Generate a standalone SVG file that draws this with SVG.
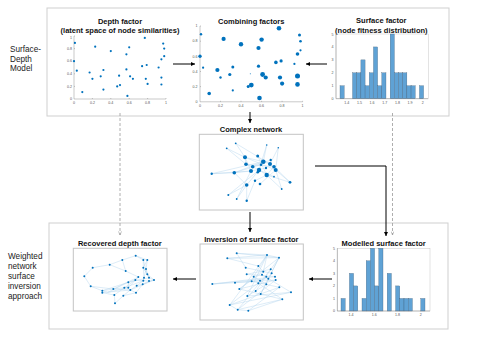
<svg xmlns="http://www.w3.org/2000/svg" width="485" height="343" viewBox="0 0 485 343">
<defs>
<style>
.frame{fill:none;stroke:#cfcfcf;stroke-width:1}
.pbox{fill:#fff;stroke:#c4c4c4;stroke-width:1}
.ttl{font-family:"Liberation Sans",Arial,sans-serif;font-weight:bold;font-size:7.5px;fill:#111;text-anchor:middle}
.side{font-family:"Liberation Sans",Arial,sans-serif;font-size:8.2px;fill:#222}
.tk{font-family:"Liberation Sans",Arial,sans-serif;font-size:3.6px;fill:#555}
.tr{text-anchor:end}
.tm{text-anchor:middle}
.ax{fill:none;stroke:#777;stroke-width:0.4}
.axl{fill:none;stroke:#bbb;stroke-width:0.4}
.d{fill:#0072BD}
.bar{fill:#5fa2d5;stroke:#3d5a73;stroke-width:0.3}
.e{stroke:#b3d4ee;stroke-width:0.45;fill:none}
.con{stroke:#000;stroke-width:1;fill:none}
.dash{stroke:#999;stroke-width:0.8;stroke-dasharray:3 2;fill:none}
</style>
<marker id="ah" viewBox="0 0 6 6" refX="6" refY="3" markerWidth="4" markerHeight="4" orient="auto"><path d="M0,0 L6,3 L0,6 z" fill="#000"/></marker>
<marker id="ahg" viewBox="0 0 6 6" refX="6" refY="3" markerWidth="4.5" markerHeight="4.5" orient="auto"><path d="M0,0.5 L6,3 L0,5.5" fill="none" stroke="#999" stroke-width="1"/></marker>
</defs>
<rect width="485" height="343" fill="#fff"/>

<!-- outer frames -->
<g id="surface-depth-model">
<rect class="frame" x="47" y="8" width="402" height="108"/>
<text class="side" x="10" y="52">Surface-</text>
<text class="side" x="10" y="61.5">Depth</text>
<text class="side" x="10" y="71">Model</text>
</g>
<g id="weighted-network-approach">
<rect class="frame" x="49" y="223" width="399" height="106"/>
<text class="side" x="8" y="259">Weighted</text>
<text class="side" x="8" y="269">network</text>
<text class="side" x="8" y="279">surface</text>
<text class="side" x="8" y="289">inversion</text>
<text class="side" x="8" y="299">approach</text>
</g>

<!-- Depth factor -->
<g id="depth-factor">
<text class="ttl" x="120" y="24.4">Depth factor</text>
<text class="ttl" x="120" y="33.4">(latent space of node similarities)</text>
<path class="ax" d="M74,36 V99 H166"/>
<path class="ax" d="M74,36 h1 M74,48.6 h1 M74,61.2 h1 M74,73.8 h1 M74,86.4 h1 M92.4,99 v-1 M110.8,99 v-1 M129.2,99 v-1 M147.6,99 v-1 M166,99 v-1"/>
<g class="tk tr">
<text x="72" y="100.2">0</text><text x="72" y="87.6">0.2</text><text x="72" y="75">0.4</text><text x="72" y="62.4">0.6</text><text x="72" y="49.8">0.8</text><text x="72" y="38.6">1</text>
</g>
<g class="tk tm">
<text x="74" y="104">0</text><text x="92.4" y="104">0.2</text><text x="110.8" y="104">0.4</text><text x="129.2" y="104">0.6</text><text x="147.6" y="104">0.8</text><text x="166" y="104">1</text>
</g>
<g class="d">
<circle cx="74.9" cy="42.9" r="1.1"/><circle cx="95.2" cy="46.7" r="1.1"/><circle cx="74.0" cy="61.2" r="1.1"/><circle cx="76.8" cy="70.7" r="1.1"/>
<circle cx="82.3" cy="92.1" r="1.1"/><circle cx="89.6" cy="72.5" r="1.1"/><circle cx="92.4" cy="78.8" r="1.1"/><circle cx="100.7" cy="76.3" r="1.1"/>
<circle cx="103.4" cy="70.0" r="1.1"/><circle cx="103.4" cy="89.6" r="1.1"/><circle cx="110.8" cy="51.1" r="1.1"/><circle cx="119.1" cy="75.7" r="1.1"/>
<circle cx="117.2" cy="86.4" r="1.1"/><circle cx="120.0" cy="85.1" r="1.1"/><circle cx="126.4" cy="54.3" r="1.1"/><circle cx="126.4" cy="69.4" r="1.1"/>
<circle cx="127.4" cy="95.9" r="1.1"/><circle cx="129.2" cy="47.3" r="1.1"/><circle cx="130.1" cy="76.3" r="1.1"/><circle cx="132.9" cy="78.8" r="1.1"/>
<circle cx="142.1" cy="66.2" r="1.1"/><circle cx="144.8" cy="37.9" r="1.1"/><circle cx="145.8" cy="78.8" r="1.1"/><circle cx="146.7" cy="65.0" r="1.1"/>
<circle cx="147.6" cy="83.9" r="1.1"/><circle cx="158.6" cy="67.5" r="1.1"/><circle cx="161.4" cy="59.3" r="1.1"/><circle cx="161.4" cy="77.6" r="1.1"/>
<circle cx="161.4" cy="84.5" r="1.1"/><circle cx="163.2" cy="43.6" r="1.1"/><circle cx="164.2" cy="48.6" r="1.1"/><circle cx="164.2" cy="56.2" r="1.1"/>
</g>
</g>

<!-- Combining factors -->
<g id="combining-factors">
<text class="ttl" x="251.2" y="24.3">Combining factors</text>
<path class="ax" d="M200,26 V101.8 H302.6"/>
<path class="ax" d="M200,26 h1 M200,41.2 h1 M200,56.3 h1 M200,71.5 h1 M200,86.6 h1 M220.5,101.8 v-1 M241,101.8 v-1 M261.6,101.8 v-1 M282.1,101.8 v-1 M302.6,101.8 v-1"/>
<g class="tk tr">
<text x="197.5" y="103">0</text><text x="197.5" y="87.8">0.2</text><text x="197.5" y="72.7">0.4</text><text x="197.5" y="57.5">0.6</text><text x="197.5" y="42.4">0.8</text><text x="197.5" y="27.2">1</text>
</g>
<g class="tk tm">
<text x="200" y="106.6">0</text><text x="220.5" y="106.6">0.2</text><text x="241" y="106.6">0.4</text><text x="261.6" y="106.6">0.6</text><text x="282.1" y="106.6">0.8</text><text x="302.6" y="106.6">1</text>
</g>
<g class="d">
<circle cx="201.0" cy="34.3" r="1.2"/><circle cx="223.6" cy="38.9" r="2.1"/><circle cx="200.0" cy="56.3" r="1.7"/><circle cx="203.1" cy="67.7" r="1.1"/>
<circle cx="209.2" cy="93.5" r="1.8"/><circle cx="217.4" cy="70.0" r="2.1"/><circle cx="220.5" cy="77.5" r="1.2"/><circle cx="229.8" cy="74.5" r="1.6"/>
<circle cx="232.8" cy="66.9" r="1.5"/><circle cx="232.8" cy="90.4" r="1.1"/><circle cx="241.0" cy="44.2" r="2.2"/><circle cx="250.3" cy="73.8" r="0.5"/>
<circle cx="248.2" cy="86.6" r="1.5"/><circle cx="251.3" cy="85.1" r="2.4"/><circle cx="258.5" cy="48.0" r="2.1"/><circle cx="258.5" cy="66.2" r="1.6"/>
<circle cx="259.5" cy="98.0" r="2.3"/><circle cx="261.6" cy="39.6" r="2.2"/><circle cx="262.6" cy="74.5" r="2.4"/><circle cx="265.7" cy="77.5" r="2.1"/>
<circle cx="275.9" cy="62.4" r="1.8"/><circle cx="279.0" cy="28.3" r="2.3"/><circle cx="280.0" cy="77.5" r="2.1"/><circle cx="281.1" cy="60.9" r="1.6"/>
<circle cx="282.1" cy="83.6" r="2.1"/><circle cx="294.4" cy="63.9" r="1.1"/><circle cx="297.5" cy="54.0" r="1.8"/><circle cx="297.5" cy="76.0" r="2.5"/>
<circle cx="297.5" cy="84.4" r="2.3"/><circle cx="299.5" cy="35.1" r="1.5"/><circle cx="300.5" cy="41.2" r="1.3"/><circle cx="300.5" cy="50.3" r="1.1"/>
</g>
</g>

<!-- Surface factor -->
<g id="surface-factor">
<text class="ttl" x="381.3" y="23.4">Surface factor</text>
<text class="ttl" x="381.3" y="33.1">(node fitness distribution)</text>
<rect x="336" y="34" width="92.3" height="64.7" fill="#fff" class="axl"/>
<g>
<rect class="bar" x="340.00" y="85.76" width="4.18" height="12.94"/>
<rect class="bar" x="352.54" y="72.82" width="4.18" height="25.88"/>
<rect class="bar" x="356.72" y="72.82" width="4.18" height="25.88"/>
<rect class="bar" x="360.90" y="59.88" width="4.18" height="38.82"/>
<rect class="bar" x="365.08" y="85.76" width="4.18" height="12.94"/>
<rect class="bar" x="369.26" y="72.82" width="4.18" height="25.88"/>
<rect class="bar" x="373.44" y="46.94" width="4.18" height="51.76"/>
<rect class="bar" x="377.62" y="85.76" width="4.18" height="12.94"/>
<rect class="bar" x="381.80" y="72.82" width="4.18" height="25.88"/>
<rect class="bar" x="390.16" y="34.00" width="4.18" height="64.70"/>
<rect class="bar" x="394.34" y="72.82" width="4.18" height="25.88"/>
<rect class="bar" x="398.52" y="72.82" width="4.18" height="25.88"/>
<rect class="bar" x="402.70" y="72.82" width="4.18" height="25.88"/>
<rect class="bar" x="406.88" y="85.76" width="4.18" height="12.94"/>
<rect class="bar" x="411.06" y="85.76" width="4.18" height="12.94"/>
<rect class="bar" x="419.42" y="85.76" width="4.18" height="12.94"/>
</g>
<path class="ax" d="M336,34 V98.7 H428.3"/>
<g class="tk tr">
<text x="333.5" y="99.9">0</text><text x="333.5" y="87">1</text><text x="333.5" y="74">2</text><text x="333.5" y="61.1">3</text><text x="333.5" y="48.2">4</text><text x="333.5" y="35.8">5</text>
</g>
<g class="tk tm">
<text x="346.7" y="103.6">1.4</text><text x="359.4" y="103.6">1.5</text><text x="372" y="103.6">1.6</text><text x="384.7" y="103.6">1.7</text><text x="397.4" y="103.6">1.8</text><text x="410" y="103.6">1.9</text><text x="422.7" y="103.6">2</text>
</g>
</g>

<!-- Complex network -->
<g id="complex-network">
<text class="ttl" x="251" y="132">Complex network</text>
<rect class="pbox" x="199.3" y="134.3" width="104" height="75.7"/>
<g class="e">
<path d="M235.7,143.3L245,157.3M226.7,148.3L245,157.3M235.7,143.3L270,164M266.7,145L259,170M278.3,147.7L275.7,170M278.3,147.7L270,164M245,157.3L263.3,161.7M245,157.3L246,164.3M245,157.3L251,171M257.7,156L263.3,161.7M263.3,161.7L270,164M246,164.3L252.7,166.7M252.7,166.7L259,170M259,170L266.7,175M274,166.7L266.7,175M275.7,170L290,182.3M251,171L234.3,172.7M234.3,172.7L211.7,173.7M234.3,172.7L246.7,185M211.7,173.7L251,171M246.7,185L228.3,195M246.7,185L236.7,199M246.7,185L246.7,200.7M246.7,185L259,170M255,180.7L266.7,175M260,184L275.7,170M290,182.3L274,166.7M281.7,189L275.7,170M281.7,189L266.7,175M274,176.7L259,170M234.3,172.7L263.3,161.7M226.7,148.3L246,164.3M266.7,145L263.3,161.7M266,168L251,171M270.7,160L252.7,166.7M257.7,172.3L263.3,161.7M261,164.7L234.3,172.7M228.3,195L259,170M246.7,200.7L255,180.7M236.7,199L251,171M274,166.7L246,164.3M211.7,173.7L263.3,161.7M290,182.3L266.7,175M245,157.3L275.7,170M257.7,156L266.7,175"/>
</g>
<g class="d">
<circle cx="235.7" cy="143.3" r="0.9"/><circle cx="226.7" cy="148.3" r="0.9"/><circle cx="266.7" cy="145" r="0.8"/><circle cx="278.3" cy="147.7" r="0.8"/>
<circle cx="245" cy="157.3" r="2"/><circle cx="257.7" cy="156" r="1.5"/><circle cx="263.3" cy="161.7" r="2.3"/><circle cx="270.7" cy="160" r="1.2"/>
<circle cx="246" cy="164.3" r="1.8"/><circle cx="252.7" cy="166.7" r="1.8"/><circle cx="259" cy="170" r="2.2"/><circle cx="266" cy="168" r="1.2"/>
<circle cx="270" cy="164" r="2"/><circle cx="274" cy="166.7" r="1.8"/><circle cx="275.7" cy="170" r="2"/><circle cx="251" cy="171" r="2"/>
<circle cx="257.7" cy="172.3" r="1.3"/><circle cx="261" cy="164.7" r="1.3"/><circle cx="266.7" cy="175" r="2.2"/><circle cx="234.3" cy="172.7" r="1.8"/>
<circle cx="211.7" cy="173.7" r="1.2"/><circle cx="274" cy="176.7" r="0.9"/><circle cx="246.7" cy="185" r="1.8"/><circle cx="255" cy="180.7" r="1.2"/>
<circle cx="260" cy="184" r="1.3"/><circle cx="290" cy="182.3" r="1.4"/><circle cx="281.7" cy="189" r="0.9"/><circle cx="228.3" cy="195" r="1"/>
<circle cx="236.7" cy="199" r="0.9"/><circle cx="246.7" cy="200.7" r="1.2"/>
</g>
</g>

<!-- Recovered depth factor -->
<g id="recovered-depth-factor">
<text class="ttl" x="119.8" y="246">Recovered depth factor</text>
<rect class="pbox" x="73.3" y="248.3" width="93.7" height="62.7"/>
<g class="e">
<path d="M84.3,276.3L92.7,267.7L109.7,264.7L122.3,260L135.7,255.7L143.3,260M135.7,255.7L147.3,260M143.3,260L143.3,267.7M147.3,260L146,269M143.3,267.7L147.3,274.3M146,269L149,277.7M122.3,260L125.7,271L138.3,277M109.7,264.7L125.7,271M84.3,276.3L90.7,286.3L102.3,290.7L113.3,289L130.3,290L136.7,285.7L142.7,284.3L149,281L154,280L149,277.7L147.3,274.3M102.3,290.7L102.3,292.7L114.3,295L115,303.3L123.3,295.7L130.3,290M144,277.7L143.3,280.7M138.3,277L135.3,280L128.3,282.3L128.3,287.7L124.3,287.7L113.3,289M136.7,285.7L143.3,280.7L144,277.7L143.3,267.7M147.3,274.3L154,280M136,292.7L142.7,284.3M136,292.7L130.3,290M107.7,292.3L102.3,290.7M107.7,292.3L128.3,282.3M102.3,290.7L128.3,282.3M102.3,292.7L130.3,290M114.3,295L135.3,280M146,269L144,277.7M147.3,260L143.3,267.7M149,281L135.3,280M143.3,260L147.3,274.3M143.3,267.7L149,277.7M142.7,284.3L154,280M128.3,287.7L138.3,277M123.3,295.7L136,292.7M107.7,292.3L128.3,287.7M90.7,286.3L113.3,289M124.3,287.7L143.3,280.7M128.3,282.3L149,277.7M130.3,290L154,280M113.3,289L138.3,277"/>
</g>
<g class="d">
<circle cx="135.7" cy="255.7" r="1"/><circle cx="143.3" cy="260" r="1"/><circle cx="147.3" cy="260" r="1"/><circle cx="122.3" cy="260" r="1"/>
<circle cx="109.7" cy="264.7" r="1"/><circle cx="92.7" cy="267.7" r="1"/><circle cx="84.3" cy="276.3" r="1"/><circle cx="125.7" cy="271" r="1"/>
<circle cx="143.3" cy="267.7" r="1"/><circle cx="146" cy="269" r="1"/><circle cx="147.3" cy="274.3" r="1"/><circle cx="144" cy="277.7" r="1"/>
<circle cx="138.3" cy="277" r="1"/><circle cx="149" cy="277.7" r="1"/><circle cx="154" cy="280" r="1"/><circle cx="149" cy="281" r="1"/>
<circle cx="143.3" cy="280.7" r="1"/><circle cx="135.3" cy="280" r="1"/><circle cx="128.3" cy="282.3" r="1"/><circle cx="136.7" cy="285.7" r="1"/>
<circle cx="142.7" cy="284.3" r="1"/><circle cx="128.3" cy="287.7" r="1"/><circle cx="124.3" cy="287.7" r="1"/><circle cx="130.3" cy="290" r="1"/>
<circle cx="113.3" cy="289" r="1"/><circle cx="102.3" cy="290.7" r="1"/><circle cx="102.3" cy="292.7" r="1"/><circle cx="90.7" cy="286.3" r="1"/>
<circle cx="114.3" cy="295" r="1"/><circle cx="123.3" cy="295.7" r="1"/><circle cx="136" cy="292.7" r="1"/><circle cx="115" cy="303.3" r="1"/>
</g>
</g>

<!-- Inversion of surface factor -->
<g id="inversion-of-surface-factor">
<text class="ttl" x="251.3" y="242">Inversion of surface factor</text>
<rect class="pbox" x="200" y="244" width="103.3" height="76"/>
<g class="e">
<path d="M236.7,253.3L267,255M236.7,253.3L279,257.7M227.3,258.3L267,255M227.3,258.3L258.3,266M236.7,253.3L245.7,267.7M267,255L279,257.7M267,255L229.7,305M267,255L247.3,296M279,257.7L268.3,278.7M279,257.7L239.3,289M279,257.7L260.7,294M212.3,284L235,282.7M212.3,284L275,276.7M235,282.7L275.7,280M229.7,305L291,292.3M229.7,305L279.3,287.3M237.7,309.7L282.3,299.3M237.7,309.7L275.7,280M248.3,310.7L282.3,299.3M248.3,310.7L279.3,287.3M239.3,289L282.3,299.3M239.3,289L275.7,280M255.7,291L279,257.7M245.7,267.7L271.7,273.3M258.3,266L263.3,271.7M246.7,274.3L275,276.7M253.7,276.7L266.3,284.3M262,274.7L291,292.3M266.3,276.7L229.7,305M260,280.7L235,282.7M251.7,281.3L279.3,287.3M258.3,283.3L282.3,299.3M247.3,296L266.3,284.3M260.7,294L271.7,273.3M270.7,269.3L237.7,309.7M263.3,271.7L239.3,289M268.3,278.7L212.3,284M227.3,258.3L279,257.7M229.7,305L237.7,309.7L248.3,310.7M247.3,296L291,292.3M267,255L263.3,271.7M267,255L253.7,276.7M270.7,269.3L246.7,274.3"/>
</g>
<g class="d">
<circle cx="236.7" cy="253.3" r="1"/><circle cx="227.3" cy="258.3" r="1"/><circle cx="267" cy="255" r="1"/><circle cx="279" cy="257.7" r="1"/>
<circle cx="245.7" cy="267.7" r="1"/><circle cx="258.3" cy="266" r="1"/><circle cx="263.3" cy="271.7" r="1"/><circle cx="270.7" cy="269.3" r="1"/>
<circle cx="246.7" cy="274.3" r="1"/><circle cx="253.7" cy="276.7" r="1"/><circle cx="262" cy="274.7" r="1"/><circle cx="266.3" cy="276.7" r="1"/>
<circle cx="271.7" cy="273.3" r="1"/><circle cx="275" cy="276.7" r="1"/><circle cx="275.7" cy="280" r="1"/><circle cx="268.3" cy="278.7" r="1"/>
<circle cx="260" cy="280.7" r="1"/><circle cx="251.7" cy="281.3" r="1"/><circle cx="258.3" cy="283.3" r="1"/><circle cx="266.3" cy="284.3" r="1"/>
<circle cx="235" cy="282.7" r="1"/><circle cx="212.3" cy="284" r="1"/><circle cx="279.3" cy="287.3" r="1"/><circle cx="239.3" cy="289" r="1"/>
<circle cx="255.7" cy="291" r="1"/><circle cx="260.7" cy="294" r="1"/><circle cx="247.3" cy="296" r="1"/><circle cx="291" cy="292.3" r="1"/>
<circle cx="282.3" cy="299.3" r="1"/><circle cx="229.7" cy="305" r="1"/><circle cx="237.7" cy="309.7" r="1"/><circle cx="248.3" cy="310.7" r="1"/>
</g>
</g>

<!-- Modelled surface factor -->
<g id="modelled-surface-factor">
<text class="ttl" x="383.7" y="245.7">Modelled surface factor</text>
<rect x="337.3" y="248.3" width="92.7" height="62.7" fill="#fff" class="axl"/>
<g>
<rect class="bar" x="341.0" y="298.46" width="4.2" height="12.54"/>
<rect class="bar" x="349.4" y="273.38" width="4.2" height="37.62"/>
<rect class="bar" x="353.6" y="285.92" width="4.2" height="25.08"/>
<rect class="bar" x="362.0" y="298.46" width="4.2" height="12.54"/>
<rect class="bar" x="366.2" y="260.84" width="4.2" height="50.16"/>
<rect class="bar" x="370.4" y="248.30" width="4.2" height="62.70"/>
<rect class="bar" x="374.6" y="285.92" width="4.2" height="25.08"/>
<rect class="bar" x="378.8" y="248.30" width="4.2" height="62.70"/>
<rect class="bar" x="387.2" y="273.38" width="4.2" height="37.62"/>
<rect class="bar" x="395.6" y="285.92" width="4.2" height="25.08"/>
<rect class="bar" x="399.8" y="298.46" width="4.2" height="12.54"/>
<rect class="bar" x="404.0" y="298.46" width="4.2" height="12.54"/>
<rect class="bar" x="408.2" y="298.46" width="4.2" height="12.54"/>
<rect class="bar" x="420.8" y="298.46" width="4.2" height="12.54"/>
</g>
<path class="ax" d="M337.3,248.3 V311 H430"/>
<g class="tk tr">
<text x="335" y="312.2">0</text><text x="335" y="299.7">1</text><text x="335" y="287.1">2</text><text x="335" y="274.6">3</text><text x="335" y="262">4</text><text x="335" y="249.8">5</text>
</g>
<g class="tk tm">
<text x="351" y="316">1.4</text><text x="374.2" y="316">1.6</text><text x="397.5" y="316">1.8</text><text x="420.7" y="316">2</text>
</g>
</g>

<!-- connectors -->
<g id="connectors">
<line class="con" x1="173" y1="64" x2="195" y2="64" marker-end="url(#ah)"/>
<line class="con" x1="327" y1="64" x2="306" y2="64" marker-end="url(#ah)"/>
<line class="con" x1="250" y1="112" x2="250" y2="123" marker-end="url(#ah)"/>
<line class="con" x1="250" y1="212" x2="250" y2="232" marker-end="url(#ah)"/>
<polyline class="con" points="315,166 386,166 386,236" marker-end="url(#ah)"/>
<line class="con" x1="196" y1="279" x2="173" y2="279" marker-end="url(#ah)"/>
<line class="con" x1="332" y1="279" x2="309" y2="279" marker-end="url(#ah)"/>
<line class="dash" x1="120" y1="113" x2="120" y2="235" marker-end="url(#ahg)"/>
<line class="dash" x1="392.5" y1="113" x2="392.5" y2="235" marker-end="url(#ahg)"/>
</g>
</svg>
